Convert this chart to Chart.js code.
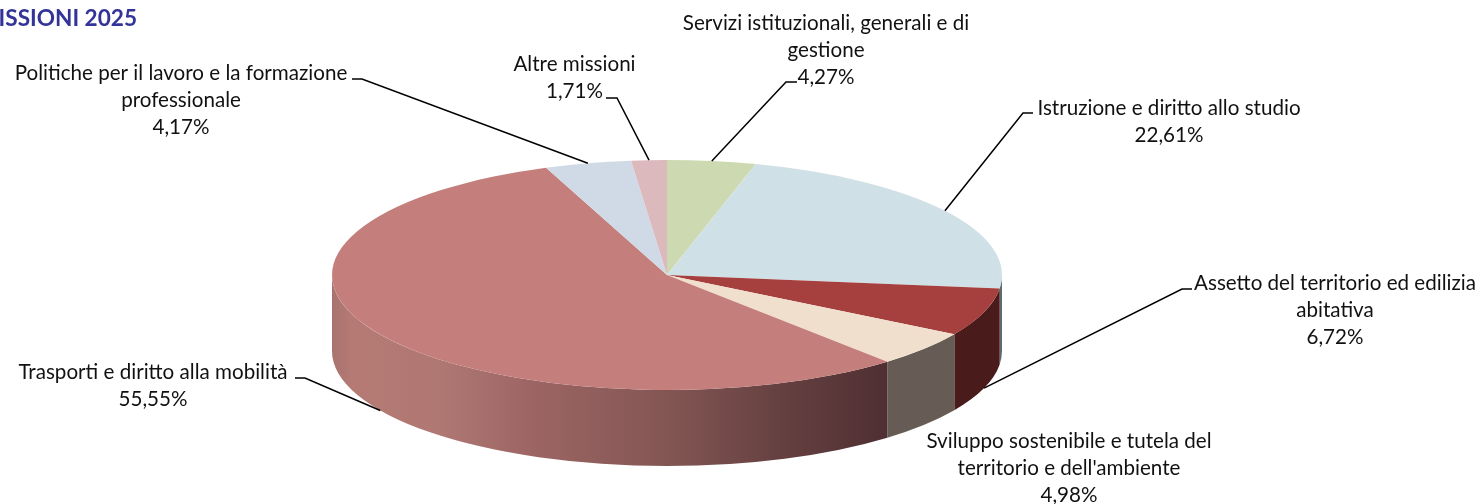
<!DOCTYPE html>
<html>
<head>
<meta charset="utf-8">
<title>Missioni 2025</title>
<style>
  html, body { margin: 0; padding: 0; background: #fff; overflow: hidden; }
  canvas { display: block; }
</style>
<script src="https://cdn.jsdelivr.net/npm/chart.js@4"></script>
</head>
<body>
<canvas id="torta" width="1483" height="504"></canvas>
<script>
const titolo = "MISSIONI 2025";

const missioni = [
  ["Servizi istituzionali, generali e di", "gestione"],
  ["Istruzione e diritto allo studio"],
  ["Assetto del territorio ed edilizia", "abitativa"],
  ["Sviluppo sostenibile e tutela del", "territorio e dell'ambiente"],
  ["Trasporti e diritto alla mobilità"],
  ["Politiche per il lavoro e la formazione", "professionale"],
  ["Altre missioni"]
];

const percentuali = [4.27, 22.61, 6.72, 4.98, 55.55, 4.17, 1.71];

const coloriSopra = ["#cddab1", "#cfe1e6", "#a5403e", "#f1dfce", "#c47e7c", "#d0dae6", "#dcb9bc"];
const coloriLato = ["#6b7358", "#5d6a6e", "#4a1b1b", "#665c55", null, "#666c73", "#6e5c5e"];

// geometria della torta sulla pagina
const CX = 667, CY = 275, RX = 335, RY = 115, SPESSORE = 76;
const FONT = '20.6px Lato, "Open Sans", sans-serif';
const ALTEZZA_RIGA = 27.2;

// posizione delle etichette: centro x, y della prima riga, attacco della linea guida
const etichette = [
  { x: 826, y: 23, guida: [[797, 82], [786, 82]], bordo: "sopra" },
  { x: 1169, y: 108, guida: [[1033, 113], [1023, 113]], bordo: "sopra" },
  { x: 1335, y: 283, guida: [[1192, 289], [1182, 289]], bordo: "sotto" },
  { x: 1069, y: 441, guida: null },
  { x: 153, y: 372, guida: [[295, 378], [305, 378]], bordo: "sotto" },
  { x: 181, y: 73, guida: [[352, 79], [362, 79]], bordo: "sopra" },
  { x: 574.5, y: 64, guida: [[606, 98], [617, 98]], bordo: "sopra" }
];

function puntoSuBordo(a, dy) {
  return [CX + RX * Math.cos(a), CY + dy + RY * Math.sin(a)];
}

function normalizza(a) {
  const giro = Math.PI * 2;
  const n = ((a % giro) + giro) % giro;
  return n > Math.PI ? n - giro : n;
}

const torta3d = {
  id: 'torta3d',
  beforeDatasetsDraw(chart) {
    const ctx = chart.ctx;
    const archi = chart.getDatasetMeta(0).data;

    // Fianco della torta, solo la parte visibile (angoli tra 0 e PI)
    const sfumatura = ctx.createLinearGradient(CX - RX, 0, CX + RX, 0);
    sfumatura.addColorStop(0, '#a8736f');
    sfumatura.addColorStop(0.03, '#b57a74');
    sfumatura.addColorStop(0.16, '#b07873');
    sfumatura.addColorStop(0.3, '#9c6564');
    sfumatura.addColorStop(0.5, '#835653');
    sfumatura.addColorStop(0.68, '#643f40');
    sfumatura.addColorStop(0.83, '#4f2f32');
    sfumatura.addColorStop(1, '#4f2f32');

    archi.forEach((arco, i) => {
      const inizio = normalizza(arco.startAngle);
      const fine = inizio + (arco.endAngle - arco.startAngle);
      const da = Math.max(inizio, 0);
      const a = Math.min(fine, Math.PI);
      if (a <= da) return;
      ctx.beginPath();
      ctx.ellipse(CX, CY, RX, RY, 0, da, a);
      ctx.ellipse(CX, CY + SPESSORE, RX, RY, 0, a, da, true);
      ctx.closePath();
      ctx.fillStyle = coloriLato[i] || sfumatura;
      ctx.fill();
    });

    // Faccia superiore: il cerchio di Chart.js schiacciato in ellisse
    const primo = archi[0];
    ctx.save();
    ctx.translate(CX, CY);
    ctx.scale(RX / primo.outerRadius, RY / primo.outerRadius);
    ctx.translate(-primo.x, -primo.y);
  },
  afterDatasetsDraw(chart) {
    const ctx = chart.ctx;
    const archi = chart.getDatasetMeta(0).data;
    ctx.restore();

    // Linee guida
    ctx.strokeStyle = '#000';
    ctx.lineWidth = 1.5;
    etichette.forEach((et, i) => {
      if (!et.guida) return;
      const medio = (archi[i].startAngle + archi[i].endAngle) / 2;
      const fine = puntoSuBordo(medio, et.bordo === 'sotto' ? SPESSORE : 0);
      ctx.beginPath();
      ctx.moveTo(et.guida[0][0], et.guida[0][1]);
      ctx.lineTo(et.guida[1][0], et.guida[1][1]);
      ctx.lineTo(fine[0], fine[1]);
      ctx.stroke();
    });

    // Testi
    ctx.fillStyle = '#111';
    ctx.font = FONT;
    ctx.textAlign = 'center';
    ctx.textBaseline = 'middle';
    etichette.forEach((et, i) => {
      const righe = missioni[i].concat(percentuali[i].toFixed(2).replace('.', ',') + '%');
      righe.forEach((riga, r) => ctx.fillText(riga, et.x, et.y + r * ALTEZZA_RIGA));
    });

    ctx.fillStyle = '#333399';
    ctx.font = 'bold 22.6px Lato, "Open Sans", sans-serif';
    ctx.textAlign = 'right';
    ctx.fillText(titolo, 137, 19);
  }
};

new Chart(document.getElementById('torta'), {
  type: 'pie',
  data: {
    labels: missioni,
    datasets: [{
      data: percentuali,
      backgroundColor: coloriSopra,
      borderWidth: 0,
      hoverOffset: 0
    }]
  },
  options: {
    responsive: false,
    animation: false,
    events: [],
    layout: { padding: 0 },
    plugins: { legend: { display: false }, title: { display: false }, tooltip: { enabled: false } }
  },
  plugins: [torta3d]
});
</script>
</body>
</html>
